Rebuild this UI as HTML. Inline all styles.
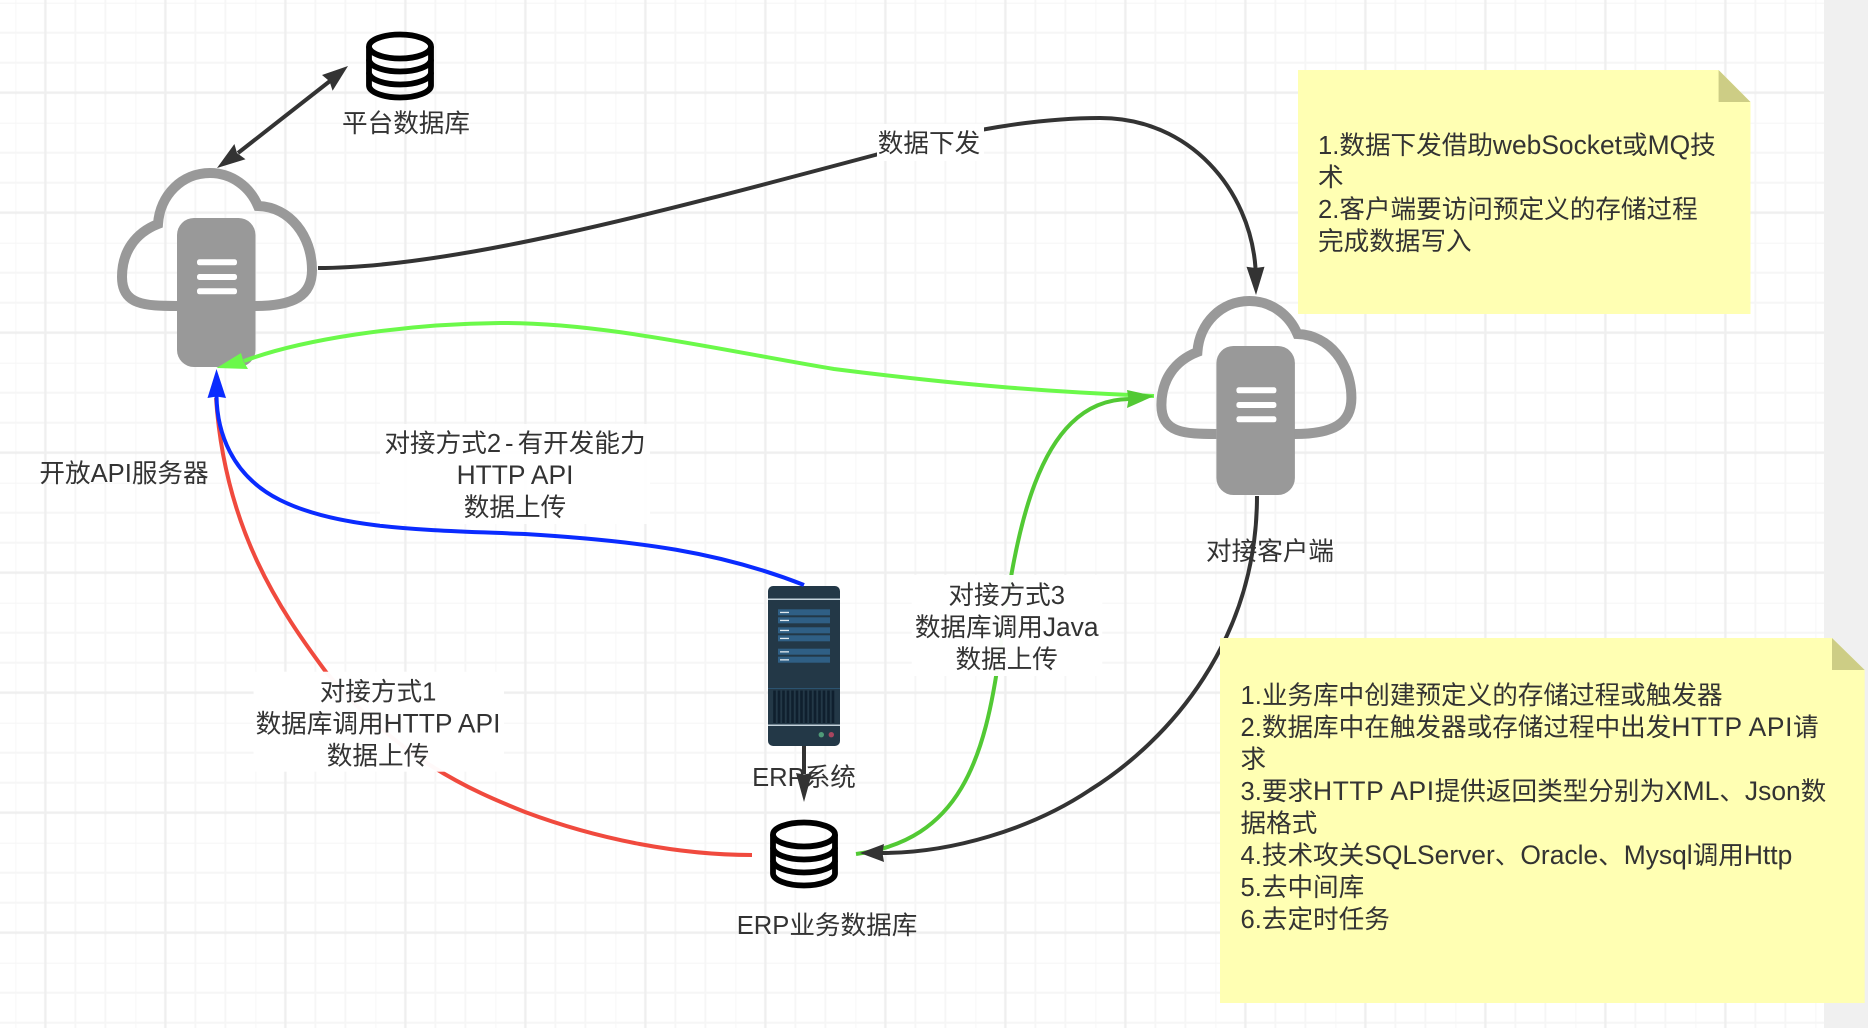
<!DOCTYPE html>
<html><head><meta charset="utf-8"><style>
html,body{margin:0;padding:0;background:#fff;width:1868px;height:1028px;overflow:hidden}
svg{display:block}
text{font-family:"Liberation Sans","Noto Sans CJK SC",sans-serif;font-size:25.6px;fill:#333}
.m{text-anchor:middle}
.l{font-size:26.4px}
</style></head><body>
<svg width="1868" height="1028" viewBox="0 0 1868 1028" xmlns="http://www.w3.org/2000/svg">
<defs>
<pattern id="g" x="15.4" y="2.7" width="120" height="120" patternUnits="userSpaceOnUse">
<path d="M0 0V120M60 0V120M90 0V120M0 0H120M0 30H120M0 60H120" stroke="#f6f6f6" stroke-width="2" fill="none"/>
<path d="M30 0V120M0 90H120" stroke="#efefef" stroke-width="2.4" fill="none"/>
</pattern>
<g id="cloud">
<path d="M177 306 C145 306 122 305 122 277 C122 252 135 233 158 224 C160 195 182 173 210 173 C232 173 250 187 258 206 C290 207 312 236 312 270 C312 295 295 306 255 306" fill="none" stroke="#999" stroke-width="10"/>
<rect x="177" y="218" width="78.500" height="149" rx="17" fill="#999"/>
<rect x="197" y="259.300" width="40" height="6" rx="2.500" fill="#fff"/>
<rect x="197" y="274" width="40" height="6" rx="2.500" fill="#fff"/>
<rect x="197" y="288.300" width="40" height="6" rx="2.500" fill="#fff"/>
</g>
<g id="db" fill="none" stroke="#000" stroke-width="5.800">
<ellipse cx="34" cy="14.500" rx="31" ry="12"/>
<path d="M3 14.500V53.500C3 60 17 65.500 34 65.500S65 60 65 53.500V14.500"/>
<path d="M3 27.500C3 34 17 39.500 34 39.500S65 34 65 27.500"/>
<path d="M3 40.500C3 47 17 52.500 34 52.500S65 47 65 40.500"/>
</g>
</defs>
<rect width="1824" height="1028" fill="#fff"/>
<rect width="1824" height="1028" fill="url(#g)"/>
<rect x="1824" width="44" height="1028" fill="#f0f0f0"/>

<use href="#db" x="366" y="32"/>
<text class="m" x="406" y="132">平台数据库</text>
<use href="#cloud"/>
<use href="#cloud" x="1039.400" y="128"/>
<text class="m" x="124" y="482">开放API服务器</text>
<text class="m" x="1270" y="560">对接客户端</text>

<!-- ERP server -->
<rect x="768" y="586" width="72" height="160" rx="5" fill="#233847"/>
<rect x="768" y="598.500" width="72" height="1.500" fill="#c5d3dc"/>
<g fill="#2f5f85">
<rect x="778" y="609.300" width="52" height="6"/><rect x="778" y="617.300" width="52" height="6"/>
<rect x="778" y="627.300" width="52" height="6"/><rect x="778" y="635.300" width="52" height="6"/>
<rect x="778" y="648.700" width="52" height="6"/><rect x="778" y="656.700" width="52" height="6"/>
</g>
<g fill="#dfe8ee">
<rect x="780" y="611.800" width="9" height="1.300"/><rect x="780" y="619.800" width="9" height="1.300"/>
<rect x="780" y="629.800" width="9" height="1.300"/><rect x="780" y="637.800" width="9" height="1.300"/>
<rect x="780" y="651.200" width="9" height="1.300"/><rect x="780" y="659.200" width="9" height="1.300"/>
</g>
<rect x="768" y="688" width="72" height="1" fill="#2b5370"/>
<path d="M774.500 690.500V723M779 690.500V723M783.500 690.500V723M788 690.500V723M792.500 690.500V723M797 690.500V723M801.500 690.500V723M806 690.500V723M810.500 690.500V723M815 690.500V723M819.500 690.500V723M824 690.500V723M828.500 690.500V723M833 690.500V723" stroke="#0f1f2e" stroke-width="2.600"/>
<rect x="768" y="724.500" width="72" height="1.500" fill="#c5d3dc"/>
<circle cx="821.300" cy="734.700" r="2.700" fill="#4f9a78"/>
<circle cx="831.300" cy="734.700" r="2.700" fill="#a8455f"/>

<text class="m" x="804" y="786">ERP系统</text>
<use href="#db" x="770" y="820"/>
<text class="m" x="827" y="934">ERP业务数据库</text>

<!-- connectors -->
<g fill="none" stroke-width="4">
<path d="M330 81 L238 153" stroke="#333"/>
<path d="M318 268 C450 268 650 215 875 155 C935 138 1020 118 1100 118 C1190 118 1250 190 1255.500 268" stroke="#333"/>
<path d="M1257 496 C1257 640 1170 740 1090 790 C1030 830 950 853 882 853" stroke="#333"/>
<path d="M804 746 V774" stroke="#333"/>
<path d="M752 855 C680 855 600 840 525 812 C470 790 400 760 326 672 C280 610 225 530 216 398" stroke="#f04a3e"/>
<path d="M804 585 C720 552 640 541 525 534 C430 530 340 530 280 500 C230 475 217 430 216.500 396" stroke="#0a2bff"/>
<path d="M856 854 C960 840 985 760 1000 650 C1015 540 1035 400 1129 399" stroke="#52c934"/>
<path d="M1154 396 C1050 392 960 385 834 369 C720 350 600 322 500 323 C400 324 300 340 244 361" stroke="#6bf94a"/>
</g>
<polygon points="348,66 322,75 329.500,81.300 332.600,90.700" fill="#333"/>
<polygon points="217,168 234.400,144 237,153 245.500,159.300" fill="#333"/>
<polygon points="1256,295 1246.500,266.700 1255.500,268 1264.500,266.700" fill="#333"/>
<polygon points="804,802 796,773 804,774.500 812,773" fill="#333"/>
<polygon points="860,853 884,844 882.500,853 884,862" fill="#333"/>
<polygon points="216.500,369 207.500,398 216.500,396.500 226,398" fill="#0a2bff"/>
<polygon points="216.500,368 241,353 243.500,361.500 248,369" fill="#6bf94a"/>
<polygon points="1154,396 1127,390 1128.500,399 1127,408" fill="#52c934"/>

<!-- edge labels -->
<rect x="877" y="124" width="107" height="37" fill="#fff"/>
<text class="m" x="929" y="152">数据下发</text>
<rect x="380" y="424" width="270" height="100" fill="#fff" fill-opacity=".93"/>
<text class="m" x="515" y="452">对接方式2<tspan dx="4">-</tspan><tspan dx="4">有开发能力</tspan></text>
<text class="m" x="515" y="484"><tspan class="l">HTTP API</tspan></text>
<text class="m" x="515" y="516">数据上传</text>
<rect x="253.600" y="671.700" width="250.400" height="100" fill="#fff" fill-opacity=".97"/>
<text class="m" x="378" y="700.700">对接方式1</text>
<text class="m" x="378" y="732.700">数据库调用<tspan class="l">HTTP API</tspan></text>
<text class="m" x="378" y="764.700">数据上传</text>
<rect x="911.700" y="575" width="190.600" height="101" fill="#fff" fill-opacity=".97"/>
<text class="m" x="1006.700" y="604">对接方式3</text>
<text class="m" x="1006.700" y="636">数据库调用<tspan class="l">Java</tspan></text>
<text class="m" x="1006.700" y="668">数据上传</text>

<!-- notes -->
<polygon points="1298,70 1718.600,70 1750.500,102 1750.500,314 1298,314" fill="#ffffb3"/>
<polygon points="1718.600,70 1750.500,102 1718.600,102" fill="#cdcd85"/>
<text x="1318" y="154">1.数据下发借助<tspan class="l">webSocket</tspan>或<tspan class="l">MQ</tspan>技</text>
<text x="1318" y="186">术</text>
<text x="1318" y="218">2.客户端要访问预定义的存储过程</text>
<text x="1318" y="250">完成数据写入</text>

<polygon points="1220,638 1832,638 1864.700,670 1864.700,1003 1220,1003" fill="#ffffb3"/>
<polygon points="1832,638 1864.700,670 1832,670" fill="#cdcd85"/>
<text x="1240.500" y="704">1.业务库中创建预定义的存储过程或触发器</text>
<text x="1240.500" y="736">2.数据库中在触发器或存储过程中出发<tspan class="l" letter-spacing=".6">HTTP API</tspan>请</text>
<text x="1240.500" y="768">求</text>
<text x="1240.500" y="800">3.要求<tspan class="l" letter-spacing=".6">HTTP API</tspan>提供返回类型分别为<tspan class="l">XML</tspan>、<tspan class="l">Json</tspan>数</text>
<text x="1240.500" y="832">据格式</text>
<text x="1240.500" y="864">4.技术攻关<tspan class="l">SQLServer</tspan>、<tspan class="l">Oracle</tspan>、<tspan class="l">Mysql</tspan>调用<tspan class="l">Http</tspan></text>
<text x="1240.500" y="896">5.去中间库</text>
<text x="1240.500" y="928">6.去定时任务</text>
</svg>
</body></html>
